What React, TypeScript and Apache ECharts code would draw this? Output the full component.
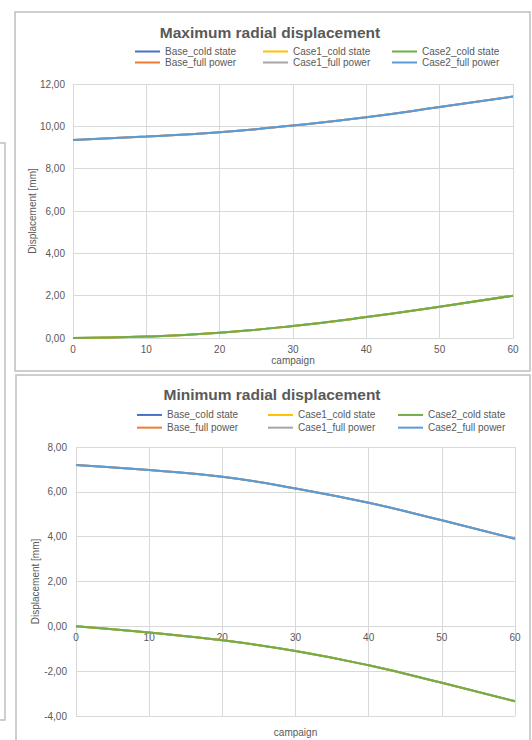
import React, { useEffect, useRef } from "react";
import * as echarts from "echarts";

const campaign = [0, 10, 20, 30, 40, 50, 60];
const maxCold = [0, 0.07, 0.25, 0.57, 0.99, 1.48, 2.0];
const maxFull = [9.36, 9.52, 9.72, 10.04, 10.43, 10.91, 11.41];
const minCold = [0, -0.28, -0.62, -1.1, -1.74, -2.52, -3.34];
const minFull = [7.2, 6.97, 6.67, 6.15, 5.51, 4.73, 3.91];

const maxRange = [0, 12];
const minRange = [-4, 8];

const seriesNames = [
  "Base_cold state",
  "Base_full power",
  "Case1_cold state",
  "Case1_full power",
  "Case2_cold state",
  "Case2_full power",
];
const seriesColors = ["#4472C4", "#ED7D31", "#FFC000", "#A5A5A5", "#70AD47", "#5B9BD5"];

const FONT = "Liberation Sans";
const TXT = "#595959";
const GRID = "#D9D9D9";

function pairs(ys: number[]) {
  return campaign.map((x, i) => [x, ys[i]]);
}

export default function App() {
  const ref = useRef<HTMLDivElement>(null);
  useEffect(() => {
    if (!ref.current) return;
    const chart = echarts.init(ref.current, undefined, { renderer: "svg" });
    const fmt = (v: number) => v.toFixed(2).replace(".", ",");

    const grids = [
      { left: 73, top: 84, width: 440, height: 254 },
      { left: 76, top: 447, width: 439, height: 269 },
    ];
    const ranges = [maxRange, minRange];

    const mkX = (gridIndex: number, nameGap: number) => {
      const r = ranges[gridIndex];
      const h = grids[gridIndex].height;
      const zeroOffset = -(h * (0 - r[0])) / (r[1] - r[0]);
      return {
        type: "value",
        gridIndex,
        min: 0,
        max: 60,
        interval: 10,
        position: "bottom",
        offset: zeroOffset,
        name: "campaign",
        nameLocation: "middle",
        nameGap,
        nameMoveOverlap: false,
        nameTextStyle: { color: TXT, fontSize: 10, fontFamily: FONT },
        axisLine: { show: true, onZero: false, lineStyle: { color: GRID, width: 1 } },
        axisTick: { show: false },
        axisLabel: { color: TXT, fontSize: 10, fontFamily: FONT, margin: 6 },
        splitLine: { show: true, lineStyle: { color: GRID, width: 1 } },
      };
    };
    const mkY = (gridIndex: number, margin: number) => ({
      type: "value",
      gridIndex,
      min: ranges[gridIndex][0],
      max: ranges[gridIndex][1],
      interval: 2,
      name: "Displacement [mm]",
      nameLocation: "middle",
      nameGap: 36,
      nameMoveOverlap: false,
      nameTextStyle: { color: TXT, fontSize: 10, fontFamily: FONT },
      axisLine: { show: false, onZero: false },
      axisTick: { show: false },
      axisLabel: { color: TXT, fontSize: 10, fontFamily: FONT, margin, formatter: fmt },
      splitLine: { show: true, lineStyle: { color: GRID, width: 1 } },
    });

    const mkLegend = (left: number, top: number, names: string[], lh: number) => ({
      left,
      top,
      orient: "vertical",
      padding: 0,
      itemGap: 0,
      itemWidth: 25,
      itemHeight: 2,
      itemTextGap: 1,
      icon: "rect",
      data: names,
      textStyle: { color: TXT, fontSize: 10, fontFamily: FONT, lineHeight: lh },
    });

    const series: any[] = [];
    [0, 1].forEach((g) => {
      const cold = g === 0 ? maxCold : minCold;
      const full = g === 0 ? maxFull : minFull;
      seriesNames.forEach((name, i) => {
        series.push({
          type: "line",
          name,
          xAxisIndex: g,
          yAxisIndex: g,
          data: pairs(i % 2 === 0 ? cold : full),
          smooth: true,
          symbol: "none",
          lineStyle: { color: seriesColors[i], width: 2 },
          itemStyle: { color: seriesColors[i] },
        });
      });
    });

    chart.setOption({
      animation: false,
      title: [
        {
          text: "Maximum radial displacement",
          left: 270,
          textAlign: "center",
          top: 24,
          padding: 0,
          textStyle: { color: TXT, fontSize: 15.5, fontWeight: "bold", fontFamily: FONT },
        },
        {
          text: "Minimum radial displacement",
          left: 272,
          textAlign: "center",
          top: 386,
          padding: 0,
          textStyle: { color: TXT, fontSize: 15.5, fontWeight: "bold", fontFamily: FONT },
        },
      ],
      legend: [
        mkLegend(135, 46, [seriesNames[0], seriesNames[1]], 11),
        mkLegend(263, 46, [seriesNames[2], seriesNames[3]], 11),
        mkLegend(392, 46, [seriesNames[4], seriesNames[5]], 11),
        mkLegend(137, 408.6, [seriesNames[0], seriesNames[1]], 12.7),
        mkLegend(268, 408.6, [seriesNames[2], seriesNames[3]], 12.7),
        mkLegend(398, 408.6, [seriesNames[4], seriesNames[5]], 12.7),
      ],
      grid: grids.map((g) => ({ ...g, containLabel: false, outerBoundsMode: "none" })),
      xAxis: [mkX(0, 17), mkX(1, 101)],
      yAxis: [mkY(0, 8), mkY(1, 9)],
      series,
      graphic: [
        {
          type: "rect",
          shape: { x: 15, y: 12, width: 515, height: 359 },
          style: { fill: "none", stroke: "#BFBFBF", lineWidth: 1.5 },
          silent: true,
        },
        {
          type: "rect",
          shape: { x: 16, y: 375, width: 514, height: 390 },
          style: { fill: "none", stroke: "#BFBFBF", lineWidth: 1.5 },
          silent: true,
        },
        {
          type: "polyline",
          shape: { points: [[0, 143], [5, 143], [5, 720], [0, 720]] },
          style: { fill: "none", stroke: "#BFBFBF", lineWidth: 1.5 },
          silent: true,
        },
      ],
    });
    return () => chart.dispose();
  }, []);
  return (
    <div
      ref={ref}
      style={{ position: "absolute", left: 0, top: 0, width: 532, height: 740, background: "#fff" }}
    />
  );
}
